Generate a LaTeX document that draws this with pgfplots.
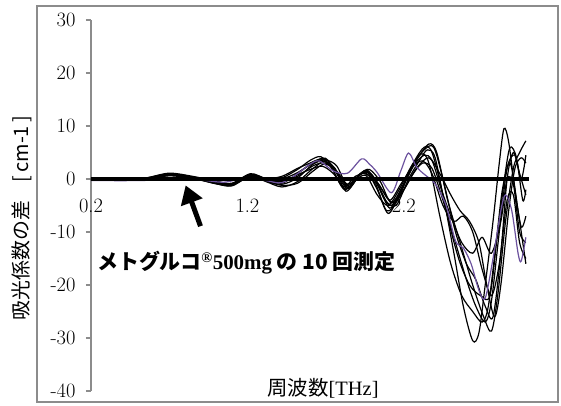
\documentclass[border=0pt]{standalone}
\usepackage{fontspec}
\usepackage{pgfplots}
\pgfplotsset{compat=1.18}
\usetikzlibrary{arrows.meta}
\newfontfamily\cjk{Noto Sans CJK JP}
\newfontfamily\timesf{Liberation Serif}
\definecolor{purp}{RGB}{108,82,158}
\definecolor{axgray}{RGB}{140,140,140}

\begin{document}
\begin{tikzpicture}
\useasboundingbox (-91bp,-15bp) rectangle (470bp,391bp);
\draw[axgray, line width=1.5bp] (-54bp,-11bp) rectangle (467bp,385bp);
\begin{axis}[
  at={(0,0)}, anchor=south west, scale only axis,
  width=438bp, height=371bp,
  xmin=0.2, xmax=3.0, ymin=-40, ymax=30,
  axis x line=middle, axis y line=left,
  x axis line style={draw=none},
  y axis line style={axgray, line width=1.2bp, -},
  hide obscured x ticks=false, hide obscured y ticks=false,
  xtick={0.2,1.2,2.2}, xticklabels={0.2,1.2,2.2},
  ytick={-40,-30,-20,-10,0,10,20,30},
  yticklabels={-40,-30,-20,-10,0,10,20,30},
  tick align=outside, major tick length=5bp,
  x tick style={draw=none},
  y tick style={axgray, line width=1.2bp},
  tick label style={font=\fontsize{20.5}{24}\selectfont},
  xticklabel style={yshift=-11bp},
  yticklabel style={xshift=-7bp},
  clip=false,
  every axis plot/.append style={smooth, tension=0.5, line width=1.2bp},
]
% nine black runs
\addplot[black] coordinates {(0.2,0.1) (0.4,0) (0.55,0.2) (0.7,1.0) (0.85,0.4) (1.0,-0.5) (1.1,-0.9) (1.22,0.9) (1.32,0)
 (1.42,-0.8) (1.52,1.0) (1.62,3.2) (1.70,3.9) (1.76,1.5) (1.84,-1.8) (1.92,0.8) (1.97,1.4) (2.04,-1.5) (2.11,-5.5) (2.18,-2)
 (2.26,3) (2.33,6.0) (2.38,5) (2.45,-3) (2.52,-14) (2.58,-24) (2.64,-30.5) (2.68,-29) (2.72,-20) (2.77,-8) (2.81,3) (2.84,9.5)
 (2.87,7) (2.91,-2) (2.95,-9) (2.98,-7)};
\addplot[black] coordinates {(0.2,-0.2) (0.4,-0.2) (0.55,-0.1) (0.7,0.6) (0.85,0.1) (1.0,-0.9) (1.1,-1.3) (1.22,0.5) (1.32,-0.5)
 (1.42,-1.5) (1.52,-0.5) (1.62,2.0) (1.70,3.5) (1.77,2.5) (1.84,-1.2) (1.92,1.0) (1.98,1.8) (2.05,-0.5) (2.12,-4.5) (2.2,-1)
 (2.28,3.5) (2.36,6.6) (2.41,5) (2.48,-4) (2.56,-12) (2.64,-20) (2.71,-26) (2.76,-28.7) (2.80,-22) (2.85,-8) (2.90,2) (2.94,5) (2.98,7.2)};
\addplot[black] coordinates {(0.2,0) (0.4,-0.1) (0.55,0.1) (0.7,0.9) (0.85,0.3) (1.0,-0.7) (1.1,-1.0) (1.22,0.8) (1.32,-0.2)
 (1.42,0.2) (1.52,1.8) (1.60,3.5) (1.67,4.2) (1.74,2.0) (1.82,-2.0) (1.90,0.3) (1.95,1.2) (2.02,-1) (2.09,-6) (2.16,-4)
 (2.24,1.5) (2.31,4.7) (2.36,3) (2.43,-7) (2.50,-16) (2.57,-22) (2.64,-25) (2.70,-27) (2.74,-24) (2.79,-12) (2.83,-2) (2.88,3)
 (2.93,-6) (2.98,-16)};
\addplot[black] coordinates {(0.2,0.1) (0.4,0) (0.55,0) (0.7,0.7) (0.85,0.2) (1.0,-0.8) (1.1,-1.1) (1.22,0.6) (1.32,-0.3)
 (1.42,-0.3) (1.52,0.5) (1.62,2.5) (1.70,3.0) (1.78,1.0) (1.85,-1.5) (1.93,1.2) (1.99,1.0) (2.06,-2) (2.13,-4.5) (2.2,-2)
 (2.28,2) (2.36,4.0) (2.43,1) (2.50,-3) (2.56,-6) (2.62,-8) (2.68,-12) (2.73,-20) (2.78,-26) (2.82,-20) (2.87,-6) (2.91,2)
 (2.95,4) (2.98,3)};
\addplot[black] coordinates {(0.2,-0.1) (0.4,-0.2) (0.55,0) (0.7,0.8) (0.85,0.2) (1.0,-0.9) (1.1,-1.2) (1.22,0.7) (1.32,-0.4)
 (1.42,-1.0) (1.52,0.2) (1.62,2.8) (1.69,3.4) (1.76,2.0) (1.83,-2.3) (1.91,0.5) (1.96,1.5) (2.03,-2) (2.10,-6.5) (2.17,-3)
 (2.25,2) (2.32,3.4) (2.38,1) (2.45,-5) (2.52,-8) (2.58,-7) (2.64,-10) (2.70,-17) (2.76,-22) (2.81,-16) (2.86,-4) (2.90,-3)
 (2.94,-12) (2.98,-15)};
\addplot[black] coordinates {(0.2,0.2) (0.4,0.1) (0.55,0.2) (0.7,1.1) (0.85,0.5) (1.0,-0.4) (1.1,-0.8) (1.22,1.0) (1.32,0.1)
 (1.42,0.5) (1.52,2.0) (1.60,3.0) (1.66,3.6) (1.73,2.5) (1.81,-1.5) (1.89,0.5) (1.95,1.0) (2.02,-0.5) (2.08,-4) (2.15,-5)
 (2.23,0) (2.30,3.5) (2.35,5.5) (2.40,4) (2.47,-6) (2.55,-15) (2.62,-20) (2.69,-22) (2.75,-22) (2.80,-10) (2.85,1.5) (2.88,6)
 (2.92,4) (2.96,-4) (2.98,-2)};
\addplot[black] coordinates {(0.2,0) (0.4,-0.1) (0.55,0.1) (0.7,0.8) (0.85,0.3) (1.0,-0.6) (1.1,-1.1) (1.22,0.7) (1.32,-0.2)
 (1.42,-0.5) (1.52,0.8) (1.61,1.9) (1.68,2.4) (1.75,1.0) (1.83,-1.9) (1.90,0.0) (1.96,0.6) (2.03,-3) (2.10,-5) (2.17,-2)
 (2.25,2.5) (2.33,5.5) (2.39,6.0) (2.45,0) (2.53,-10) (2.60,-16) (2.66,-19) (2.72,-24) (2.77,-26) (2.82,-14) (2.86,0) (2.90,5)
 (2.94,1) (2.98,-3)};
\addplot[black] coordinates {(0.2,0.1) (0.4,0) (0.55,0.1) (0.7,0.9) (0.85,0.3) (1.0,-0.7) (1.1,-1.0) (1.22,0.8) (1.32,-0.1)
 (1.42,0) (1.52,1.2) (1.62,3.0) (1.70,3.7) (1.77,1.5) (1.84,-1.0) (1.92,0.8) (1.97,1.2) (2.04,-1) (2.11,-4) (2.18,-1)
 (2.26,2.5) (2.33,4.5) (2.38,3.5) (2.44,-2) (2.50,-7) (2.57,-12) (2.64,-14) (2.70,-11) (2.76,-14) (2.82,-8) (2.86,0) (2.90,-1)
 (2.94,-10) (2.98,-12)};
\addplot[black] coordinates {(0.2,-0.1) (0.4,-0.1) (0.55,0) (0.7,0.7) (0.85,0.2) (1.0,-0.8) (1.1,-1.2) (1.22,0.6) (1.32,-0.4)
 (1.42,-1.2) (1.52,-0.8) (1.62,1.5) (1.69,2.8) (1.76,1.8) (1.84,-1.6) (1.91,0.6) (1.97,1.6) (2.04,-1.5) (2.11,-5) (2.18,-3)
 (2.26,1) (2.32,3) (2.38,2) (2.45,-4) (2.52,-11) (2.60,-19) (2.66,-24) (2.72,-27) (2.76,-23) (2.81,-10) (2.86,2) (2.91,4.5)
 (2.95,0) (2.98,4.5)};
% the purple run
\addplot[purp] coordinates {(0.2,-0.3) (0.5,-0.3) (0.7,-0.1) (0.9,-0.2) (1.05,-0.6) (1.2,0.2) (1.32,-0.3)
 (1.42,-0.7) (1.52,1.0) (1.60,2.8) (1.66,3.4) (1.75,1.5) (1.84,1.1) (1.93,3.8) (1.98,2.8) (2.03,1.2) (2.12,-2.6) (2.18,1.5)
 (2.23,4.9) (2.28,2.3) (2.33,0.9) (2.40,-0.9) (2.47,-5) (2.53,-11.7) (2.58,-13) (2.63,-16) (2.68,-21) (2.72,-22.5) (2.77,-15)
 (2.82,-6) (2.85,-3) (2.89,-6) (2.93,-14) (2.95,-15.5) (2.98,-11)};
% thick zero line
\addplot[black, line width=4bp, sharp plot] coordinates {(0.2,0) (3.0,0)};

\draw[line width=5bp, -{Triangle[width=22bp, length=18bp]}]
  (axis cs:0.9,-8.9) -- (axis cs:0.805,-1.2);
\end{axis}

\node[rotate=90, inner sep=0, font=\cjk\fontsize{20}{24}\selectfont] at (-69bp,173bp)
  {吸光係数の差\hspace{0.9em}[\,cm-1\,]};
\node[inner sep=0, font=\fontsize{20.5}{24}\selectfont] at (232bp,3bp)
  {{\cjk 周波数}{\timesf [THz]}};
\node[anchor=west, inner sep=0, font=\fontsize{21}{25}\selectfont] at (6bp,128bp)
  {{\cjk\bfseries メトグルコ}\textsuperscript{\timesf\bfseries\textregistered}{\timesf\bfseries 500mg}{\cjk\bfseries\ の 10 回測定}};
\end{tikzpicture}
\end{document}
